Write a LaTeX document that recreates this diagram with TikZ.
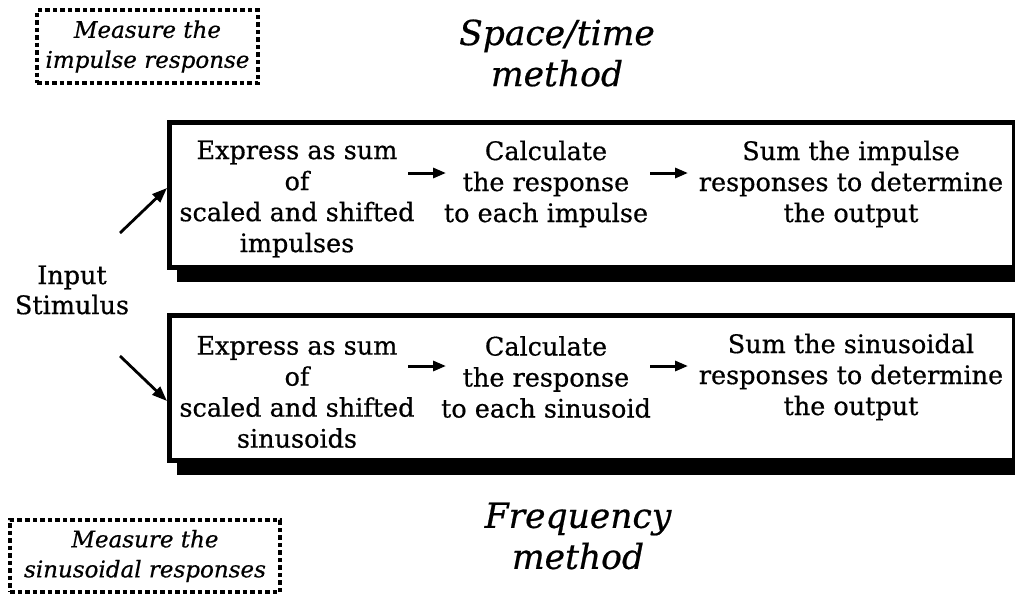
\documentclass[tikz,border=0pt]{standalone}
\usepackage{fontspec}
\setmainfont{DejaVu Serif}[FakeBold=0.6]
\usetikzlibrary{arrows.meta,shadows}
\begin{document}
\begin{tikzpicture}[x=1pt,y=-1pt,
  bigbox/.style={draw=black, line width=5pt, fill=white, inner sep=0pt, outer sep=0pt,
     minimum width=845pt, minimum height=145pt,
     drop shadow={shadow xshift=7.5pt, shadow yshift=-14.5pt, fill=black, opacity=1}},
  steptext/.style={align=center, inner sep=0pt, font=\fontsize{25.5}{31}\selectfont},
  titletext/.style={align=center, inner sep=0pt, font=\fontsize{34.5}{41}\selectfont\itshape},
  notebox/.style={draw=black, line width=4pt, dash pattern=on 4.5pt off 3pt, inner sep=0pt,
     align=center, font=\fontsize{23}{30}\selectfont\itshape},
  smallarrow/.style={line width=3pt, -{Triangle[length=13pt,width=10pt]}},
  inarrow/.style={line width=2.8pt, -{Triangle[length=15pt,width=11pt]}}
]
\useasboundingbox (0,0) rectangle (1015,595);

% boxes
\node[bigbox] (boxA) at (592,195) {};
\node[bigbox] (boxB) at (592,388) {};

% top row texts
\node[steptext] (a1) at (297,199) {Express as sum\\of\\scaled and shifted\\impulses};
\node[steptext] (a2) at (546,184) {Calculate\\the response\\to each impulse};
\node[steptext] (a3) at (851,184) {Sum the impulse\\responses to determine\\the output};

% bottom row texts
\node[steptext] (b1) at (297,392) {Express as sum\\of\\scaled and shifted\\sinusoids};
\node[steptext] (b2) at (546,377) {Calculate\\the response\\to each sinusoid};
\node[steptext] (b3) at (851,377) {Sum the sinusoidal\\responses to determine\\the output};

% arrows between steps
\coordinate (a12s) at (408,173); \coordinate (a12e) at (446,173);
\coordinate (a23s) at (650,173); \coordinate (a23e) at (688,173);
\coordinate (b12s) at (408,366); \coordinate (b12e) at (446,366);
\coordinate (b23s) at (650,366); \coordinate (b23e) at (688,366);
\draw[smallarrow] (a12s) -- (a12e);
\draw[smallarrow] (a23s) -- (a23e);
\draw[smallarrow] (b12s) -- (b12e);
\draw[smallarrow] (b23s) -- (b23e);

% input stimulus
\node[steptext, font=\fontsize{25.5}{30}\selectfont] (inp) at (72,290) {Input\\Stimulus};
\coordinate (inA) at (120,233); \coordinate (inAe) at (167,188);
\coordinate (inB) at (120,356); \coordinate (inBe) at (167,401);
\draw[inarrow] (inA) -- (inAe);
\draw[inarrow] (inB) -- (inBe);

% titles
\node[titletext] (t1) at (557,53) {Space/time\\method};
\node[titletext] (t2) at (578,536) {Frequency\\method};

% note boxes
\node[notebox, minimum width=221pt, minimum height=73pt] (n1) at (147.5,46.5) {Measure the\\impulse response};
\node[notebox, minimum width=270pt, minimum height=72pt] (n2) at (145,556) {Measure the\\sinusoidal responses};
\end{tikzpicture}
\end{document}
